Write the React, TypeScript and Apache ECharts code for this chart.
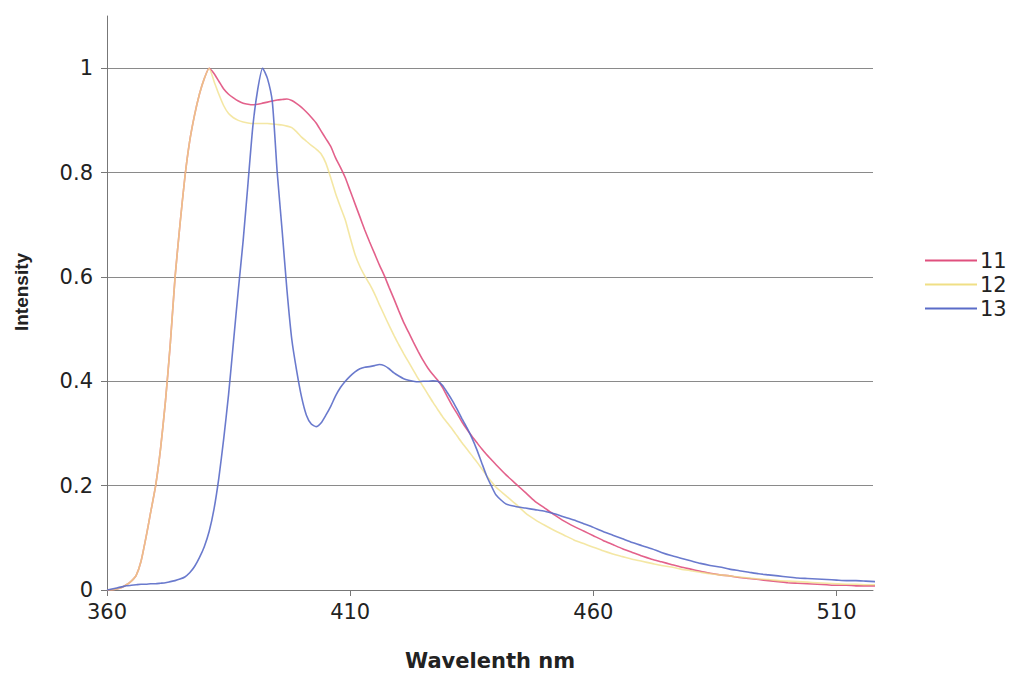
import React, { useEffect, useRef } from "react";
import * as echarts from "echarts";

const wavelengths = [
  360, 361, 362, 363, 364, 365, 366, 367, 368, 369, 370, 371, 372, 373, 374, 375, 376, 377, 378, 379,
  380, 381, 382, 383, 384, 385, 386, 387, 388, 389, 390, 391, 392, 393, 394, 395, 396, 397, 398, 399,
  400, 401, 402, 403, 404, 405, 406, 407, 408, 409, 410, 411, 412, 413, 414, 415, 416, 417, 418, 419,
  420, 421, 422, 423, 424, 425, 426, 427, 428, 429, 430, 431, 432, 433, 434, 435, 436, 437, 438, 439,
  440, 442, 444, 446, 448, 450, 452, 454, 456, 458, 460, 462, 464, 466, 468, 470, 472, 474, 476, 478,
  480, 482, 484, 486, 488, 490, 492, 494, 496, 498, 500, 502, 504, 506, 508, 510, 512, 514, 516, 518,
];

const series11 = [
  0.0, 0.0, 0.002, 0.005, 0.01, 0.017, 0.028, 0.055, 0.1, 0.15, 0.2, 0.27, 0.36, 0.47, 0.6, 0.7, 0.79, 0.86, 0.91, 0.95,
  0.98, 1.0, 0.99, 0.975, 0.96, 0.95, 0.943, 0.937, 0.933, 0.931, 0.93, 0.931, 0.933, 0.935, 0.937, 0.939, 0.94, 0.941, 0.938, 0.932,
  0.925, 0.916, 0.906, 0.895, 0.88, 0.865, 0.85, 0.828, 0.81, 0.79, 0.765, 0.74, 0.715, 0.69, 0.667, 0.645, 0.623, 0.603, 0.58, 0.558,
  0.535, 0.513, 0.494, 0.475, 0.457, 0.44, 0.425, 0.413, 0.402, 0.388, 0.37, 0.353, 0.338, 0.322, 0.308, 0.295, 0.283, 0.271, 0.26, 0.25,
  0.24, 0.221, 0.204, 0.187, 0.17, 0.157, 0.144, 0.132, 0.122, 0.113, 0.104, 0.095, 0.087, 0.079, 0.072, 0.065, 0.059, 0.054, 0.049, 0.044,
  0.04, 0.036, 0.032, 0.029, 0.027, 0.024, 0.022, 0.02, 0.018, 0.016, 0.014, 0.013, 0.012, 0.011, 0.01, 0.009, 0.009, 0.008, 0.008, 0.008,
];

const series12 = [
  0.0, 0.0, 0.002, 0.005, 0.01, 0.017, 0.028, 0.055, 0.1, 0.15, 0.2, 0.27, 0.36, 0.47, 0.6, 0.7, 0.79, 0.86, 0.91, 0.95,
  0.98, 1.0, 0.975, 0.95, 0.928, 0.913, 0.905, 0.9, 0.897, 0.895, 0.894, 0.894, 0.894, 0.894, 0.893, 0.892, 0.891, 0.889, 0.886, 0.878,
  0.868, 0.86, 0.852, 0.845, 0.836, 0.818, 0.79, 0.76, 0.734, 0.709, 0.675, 0.643, 0.62, 0.602, 0.586, 0.568, 0.547, 0.527, 0.507, 0.488,
  0.47, 0.453, 0.437, 0.421, 0.405, 0.39, 0.375, 0.36, 0.346, 0.332, 0.32, 0.308, 0.295, 0.282, 0.27, 0.258, 0.246, 0.233, 0.22, 0.208,
  0.197, 0.181, 0.165, 0.148, 0.135, 0.124, 0.114, 0.105, 0.096, 0.089, 0.082, 0.075, 0.069, 0.064, 0.059, 0.055, 0.051, 0.047, 0.044, 0.04,
  0.037, 0.034, 0.031, 0.029, 0.027, 0.025, 0.023, 0.021, 0.02, 0.018, 0.017, 0.016, 0.015, 0.014, 0.013, 0.012, 0.011, 0.011, 0.01, 0.01,
];

const series13 = [
  0.0, 0.002, 0.004, 0.006, 0.008, 0.009, 0.01, 0.011, 0.011, 0.012, 0.012, 0.013, 0.014, 0.016, 0.018, 0.021, 0.025, 0.033, 0.045, 0.062,
  0.083, 0.112, 0.155, 0.215, 0.29, 0.375, 0.475, 0.575, 0.67, 0.78, 0.89, 0.96, 1.0, 0.98, 0.935, 0.8, 0.69, 0.575, 0.48, 0.42,
  0.37, 0.335, 0.318, 0.313, 0.32, 0.335, 0.352, 0.372, 0.388, 0.4, 0.41, 0.418, 0.424, 0.427, 0.428, 0.43, 0.432, 0.43, 0.424, 0.416,
  0.41, 0.405, 0.402, 0.4, 0.399, 0.4, 0.4, 0.401, 0.4, 0.392, 0.378, 0.363, 0.346, 0.328, 0.311, 0.292, 0.27, 0.245, 0.22, 0.2,
  0.182, 0.165, 0.16, 0.157, 0.154, 0.151, 0.146, 0.14, 0.134, 0.127, 0.12, 0.112, 0.105, 0.098, 0.091, 0.085, 0.079, 0.072, 0.066, 0.061,
  0.056, 0.051, 0.047, 0.044, 0.04, 0.037, 0.034, 0.031, 0.029, 0.027, 0.025, 0.023, 0.022, 0.021, 0.02, 0.019, 0.018, 0.018, 0.017, 0.016,
];

const seriesNames = ["11", "12", "13"];
const xTickValues = [360, 410, 460, 510];
const yTickValues = [0, 0.2, 0.4, 0.6, 0.8, 1];
const xAxisTitle = "Wavelenth nm";
const yAxisTitle = "Intensity";

const WIDE = "'DejaVu Sans', 'Liberation Sans', Arial, sans-serif";
const NARROW = "'Liberation Sans', Arial, sans-serif";

export default function App() {
  const ref = useRef<HTMLDivElement>(null);

  useEffect(() => {
    if (!ref.current) return;
    const chart = echarts.init(ref.current, undefined, { renderer: "svg" });
    const pair = (vals: number[]) => wavelengths.map((w, i) => [w, vals[i]]);
    const colors = ["#e0507e", "#f0df85", "#5a6cc8"];
    const opacities = [0.9, 0.75, 0.9];
    const datasets = [series11, series12, series13];

    chart.setOption({
      animation: false,
      backgroundColor: "#ffffff",
      textStyle: { fontFamily: WIDE },
      grid: { left: 107, right: 136, top: 16, bottom: 94, containLabel: false },
      legend: {
        orient: "vertical",
        left: 920,
        top: 245,
        icon: "rect",
        itemWidth: 52,
        itemHeight: 2,
        itemGap: 3,
        textStyle: { fontSize: 21, color: "#222", fontFamily: WIDE, padding: [0, 0, 0, -2] },
        data: seriesNames,
      },
      xAxis: {
        type: "value",
        min: 360,
        max: 517.5,
        interval: 10,
        name: xAxisTitle,
        nameLocation: "middle",
        nameGap: 60,
        nameTextStyle: { fontSize: 21, fontWeight: "bold", color: "#222", fontFamily: WIDE },
        axisLine: { show: true, onZero: false, lineStyle: { color: "#777", width: 1 } },
        axisTick: { show: true, length: 6, lineStyle: { color: "#777" }, customValues: xTickValues },
        axisLabel: { fontSize: 21, color: "#222", margin: 11, customValues: xTickValues, fontFamily: WIDE },
        splitLine: { show: false },
      },
      yAxis: {
        type: "value",
        min: 0,
        max: 1.1,
        interval: 0.2,
        name: yAxisTitle,
        nameLocation: "middle",
        nameGap: 76,
        nameTextStyle: { fontSize: 19, fontWeight: "bold", color: "#222", fontFamily: NARROW, padding: [0, 0, 0, 22] },
        axisLine: { show: true, lineStyle: { color: "#777", width: 1 } },
        axisTick: { show: true, length: 6, lineStyle: { color: "#777" }, customValues: yTickValues },
        axisLabel: { fontSize: 21, color: "#222", margin: 14, customValues: yTickValues, fontFamily: WIDE },
        splitLine: { show: true, lineStyle: { color: "#8a8a8a", width: 1 } },
      },
      series: datasets.map((vals, i) => ({
        name: seriesNames[i],
        type: "line",
        data: pair(vals),
        symbol: "none",
        smooth: 0.2,
        clip: true,
        lineStyle: { color: colors[i], width: 1.6, opacity: opacities[i] },
        itemStyle: { color: colors[i] },
      })),
    });

    return () => chart.dispose();
  }, []);

  return <div ref={ref} style={{ width: 1009, height: 684, position: "absolute", left: 0, top: 0 }} />;
}
